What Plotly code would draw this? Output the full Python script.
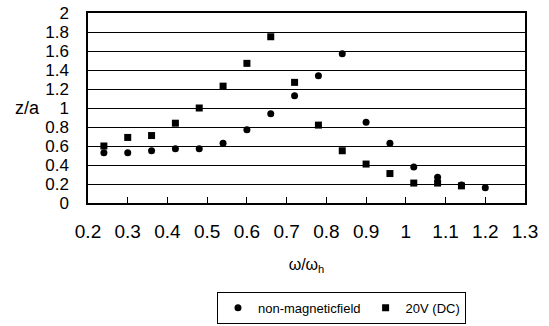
import plotly.graph_objects as go

# frequency ratio omega/omega_h
omega_ratio = [0.24, 0.30, 0.36, 0.42, 0.48, 0.54, 0.60, 0.66, 0.72,
               0.78, 0.84, 0.90, 0.96, 1.02, 1.08, 1.14, 1.20]
# z/a, no magnetic field
z_nonmag = [0.53, 0.53, 0.55, 0.57, 0.57, 0.63, 0.77, 0.94, 1.13,
            1.34, 1.57, 0.85, 0.63, 0.38, 0.27, 0.19, 0.16]
# z/a, 20V (DC)
omega_ratio_20v = omega_ratio[:16]
z_20v = [0.60, 0.69, 0.71, 0.84, 1.00, 1.23, 1.47, 1.75, 1.27,
         0.82, 0.55, 0.41, 0.31, 0.21, 0.21, 0.18]

x_ticks = [0.2, 0.3, 0.4, 0.5, 0.6, 0.7, 0.8, 0.9, 1.0, 1.1, 1.2, 1.3]
x_tick_labels = ["0.2", "0.3", "0.4", "0.5", "0.6", "0.7", "0.8", "0.9", "1", "1.1", "1.2", "1.3"]
y_ticks = [0, 0.2, 0.4, 0.6, 0.8, 1.0, 1.2, 1.4, 1.6, 1.8, 2.0]
y_tick_labels = ["0", "0.2", "0.4", "0.6", "0.8", "1", "1.2", "1.4", "1.6", "1.8", "2"]

FONT = "Liberation Sans, Arial, Helvetica, sans-serif"

fig = go.Figure()
fig.add_trace(go.Scatter(
    x=omega_ratio, y=z_nonmag, mode="markers", name="non-magneticfield",
    marker=dict(symbol="circle", size=7, color="black"),
))
fig.add_trace(go.Scatter(
    x=omega_ratio_20v, y=z_20v, mode="markers", name="20V (DC)",
    marker=dict(symbol="square", size=7, color="black"),
))

fig.update_layout(
    width=549, height=326,
    margin=dict(l=88, r=24, t=13, b=123, autoexpand=False),
    paper_bgcolor="white", plot_bgcolor="white",
    font=dict(family=FONT, color="black"),
    showlegend=True,
    legend=dict(
        orientation="h", xref="container", yref="container",
        x=0.622, xanchor="center", y=0.105, yanchor="top",
        bordercolor="black", borderwidth=1, font=dict(size=13, family=FONT),
        itemwidth=30, tracegroupgap=0,
    ),
    xaxis=dict(
        range=[0.2, 1.3], tickmode="array", tickvals=x_ticks, ticktext=x_tick_labels,
        showgrid=False, zeroline=False,
        showline=True, linecolor="black", linewidth=1.5, mirror=True,
        ticks="inside", ticklen=6, tickcolor="black",
        tickfont=dict(size=19, family=FONT), ticklabelstandoff=10,
        title=dict(text="ω/ω<sub>h</sub>", font=dict(size=16, family=FONT), standoff=18),
    ),
    yaxis=dict(
        range=[0, 2], tickmode="array", tickvals=y_ticks, ticktext=y_tick_labels,
        showgrid=True, gridcolor="black", gridwidth=1, zeroline=False,
        showline=True, linecolor="black", linewidth=1.5, mirror=True,
        ticks="", tickfont=dict(size=17, family=FONT), ticklabelstandoff=14,
    ),
    annotations=[dict(
        text="z/a", xref="paper", yref="y", x=0, y=1.0, xanchor="right", yanchor="middle",
        xshift=-46, showarrow=False, font=dict(size=18, family=FONT),
    )],
)

fig.write_html("out.html")
